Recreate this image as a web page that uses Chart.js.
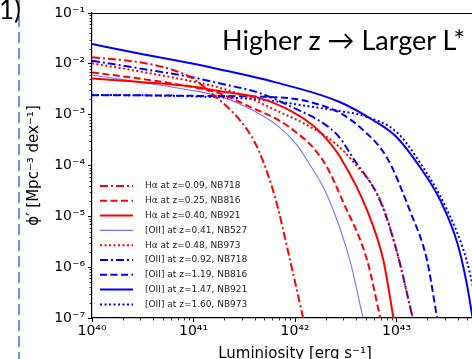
<!DOCTYPE html>
<html>
<head>
<meta charset="utf-8">
<script src="https://cdn.jsdelivr.net/npm/chart.js@4.4.1/dist/chart.umd.min.js"></script>
<style>
  html, body { margin: 0; padding: 0; overflow: hidden; background: #fff; }
  #wrap { position: relative; width: 472px; height: 359px; overflow: hidden; }
  #box { position: absolute; left: 0; top: 0; width: 540px; height: 359px; }
  #note { position: absolute; left: 222px; top: 23px; font: 27px Lato, sans-serif; color: #000; white-space: nowrap; }
  #num { position: absolute; left: -1px; top: -7px; font: 26px Lato, sans-serif; color: #000; }
  #divider { position: absolute; left: 18px; top: 0; width: 2px; height: 359px;
    background: repeating-linear-gradient(to bottom, #6d97d8 0 11px, transparent 11px 16px); }
</style>
</head>
<body>
<div id="wrap">
  <div id="box"><canvas id="grafica"></canvas></div>
  <div id="divider"></div>
  <div id="num">1)</div>
  <div id="note">Higher z → Larger L*</div>
</div>
<script>
// curves: log10(L) and log10(phi) pairs
const haZ009L   = [40.0, 40.5, 40.8, 41.0, 41.16, 41.4, 41.53, 41.63, 41.8, 41.95, 42.08];
const haZ009Phi = [-1.87, -1.98, -2.12, -2.30, -2.55, -2.98, -3.30, -3.65, -4.6, -5.85, -7.0];

const haZ025L   = [40.0, 40.5, 41.0, 41.24, 41.56, 41.85, 42.0, 42.18, 42.32, 42.47, 42.71, 42.84];
const haZ025Phi = [-2.17, -2.30, -2.46, -2.57, -2.85, -3.12, -3.33, -3.65, -4.05, -4.70, -5.86, -7.0];

const haZ040L   = [40.0, 40.5, 41.0, 41.2, 41.66, 41.98, 42.18, 42.32, 42.44, 42.71, 42.87, 42.97];
const haZ040Phi = [-2.29, -2.36, -2.45, -2.52, -2.68, -2.95, -3.22, -3.50, -3.82, -4.88, -5.86, -7.0];

const oiiZ041L   = [40.0, 40.5, 41.0, 41.24, 41.49, 41.83, 42.02, 42.12, 42.32, 42.54, 42.67];
const oiiZ041Phi = [-2.22, -2.37, -2.53, -2.63, -2.82, -3.22, -3.60, -3.90, -4.60, -5.86, -7.0];

const haZ048L   = [40.0, 40.5, 41.0, 41.24, 41.5, 41.82, 42.15, 42.4, 42.57, 42.84, 43.0, 43.16];
const haZ048Phi = [-1.99, -2.16, -2.35, -2.46, -2.63, -2.92, -3.24, -3.57, -3.92, -4.68, -5.67, -7.0];

const oiiZ092L   = [40.0, 40.5, 41.0, 41.2, 41.66, 41.98, 42.28, 42.44, 42.57, 42.84, 43.0, 43.16];
const oiiZ092Phi = [-1.94, -2.10, -2.27, -2.36, -2.58, -2.86, -3.17, -3.45, -3.85, -4.70, -5.67, -7.0];

const oiiZ119L   = [40.0, 40.5, 41.0, 41.5, 42.0, 42.25, 42.44, 42.67, 42.91, 43.13, 43.30, 43.40];
const oiiZ119Phi = [-2.62, -2.62, -2.63, -2.64, -2.69, -2.81, -2.96, -3.30, -3.86, -4.88, -5.86, -7.0];

const oiiZ147L   = [40.0, 40.5, 41.0, 41.24, 41.8, 42.44, 42.77, 43.0, 43.23, 43.43, 43.6, 43.69, 43.75];
const oiiZ147Phi = [-1.61, -1.81, -2.00, -2.10, -2.36, -2.75, -3.11, -3.44, -4.03, -4.68, -5.53, -6.30, -7.0];

const oiiZ160L   = [40.0, 40.5, 41.0, 41.5, 41.82, 42.15, 42.44, 42.67, 43.0, 43.2, 43.5, 43.69, 43.82];
const oiiZ160Phi = [-2.61, -2.62, -2.64, -2.68, -2.74, -2.84, -2.93, -3.02, -3.34, -3.85, -4.88, -5.86, -7.0];

const etiquetas = [
  'Hα at z=0.09, NB718',
  'Hα at z=0.25, NB816',
  'Hα at z=0.40, NB921',
  '[OII] at z=0.41, NB527',
  'Hα at z=0.48, NB973',
  '[OII] at z=0.92, NB718',
  '[OII] at z=1.19, NB816',
  '[OII] at z=1.47, NB921',
  '[OII] at z=1.60, NB973'
];

const xTickExps = [40, 41, 42, 43, 44];
const yTickExps = [-7, -6, -5, -4, -3, -2, -1];

const curvas = [
  [haZ009L, haZ009Phi], [haZ025L, haZ025Phi], [haZ040L, haZ040Phi],
  [oiiZ041L, oiiZ041Phi], [haZ048L, haZ048Phi], [oiiZ092L, oiiZ092Phi],
  [oiiZ119L, oiiZ119Phi], [oiiZ147L, oiiZ147Phi], [oiiZ160L, oiiZ160Phi]
];

const dashDot = [8, 3, 2, 3];
const dashed = [7, 3.5];
const dotted = [2, 2.5];
const estilos = [
  { color: '#ff0000', width: 2, dash: dashDot },
  { color: '#ff0000', width: 2, dash: dashed },
  { color: '#ff0000', width: 2, dash: [] },
  { color: 'rgba(0,0,255,0.55)', width: 1.1, dash: [] },
  { color: '#ff0000', width: 2, dash: dotted },
  { color: '#0000ff', width: 2, dash: dashDot },
  { color: '#0000ff', width: 2, dash: dashed },
  { color: '#0000ff', width: 2, dash: [] },
  { color: '#0000ff', width: 2, dash: dotted }
];

const SUP = { '-': '⁻', '0': '⁰', '1': '¹', '2': '²', '3': '³', '4': '⁴', '5': '⁵', '6': '⁶', '7': '⁷', '8': '⁸', '9': '⁹' };
const potencia = e => '10' + String(e).split('').map(c => SUP[c]).join('');

const datasets = curvas.map(([ls, ps], i) => ({
  label: etiquetas[i],
  data: ls.map((l, j) => ({ x: Math.pow(10, l), y: Math.pow(10, ps[j]) })),
  showLine: true,
  pointRadius: 0,
  borderColor: estilos[i].color,
  borderWidth: estilos[i].width,
  borderDash: estilos[i].dash,
  cubicInterpolationMode: 'monotone',
  fill: false
}));

// minor ticks, top spine and the legend in the lower left corner
const extras = {
  id: 'extras',
  afterDraw(chart) {
    const { ctx, chartArea: a, scales: { x, y } } = chart;
    ctx.save();
    ctx.strokeStyle = '#000';
    ctx.lineWidth = 0.8;
    ctx.beginPath();
    for (let e = xTickExps[0]; e < xTickExps[xTickExps.length - 1]; e++) {
      for (let m = 2; m <= 9; m++) {
        const px = Math.round(x.getPixelForValue(m * Math.pow(10, e))) + 0.5;
        ctx.moveTo(px, a.bottom); ctx.lineTo(px, a.bottom + 2.5);
      }
    }
    for (let e = yTickExps[0]; e < yTickExps[yTickExps.length - 1]; e++) {
      for (let m = 2; m <= 9; m++) {
        const py = Math.round(y.getPixelForValue(m * Math.pow(10, e))) + 0.5;
        ctx.moveTo(a.left, py); ctx.lineTo(a.left - 2.5, py);
      }
    }
    ctx.stroke();
    ctx.lineWidth = 1.2;
    ctx.beginPath();
    ctx.moveTo(a.left, a.top + 0.5); ctx.lineTo(a.right, a.top + 0.5);
    ctx.stroke();

    // legend
    const paso = 14.8;
    let fy = a.bottom - 132;
    ctx.font = '9px "DejaVu Sans"';
    ctx.textBaseline = 'middle';
    ctx.fillStyle = '#222';
    chart.data.datasets.forEach(ds => {
      ctx.beginPath();
      ctx.setLineDash(ds.borderDash);
      ctx.strokeStyle = ds.borderColor;
      ctx.lineWidth = ds.borderWidth;
      ctx.moveTo(a.left + 8, fy); ctx.lineTo(a.left + 41, fy);
      ctx.stroke();
      ctx.setLineDash([]);
      ctx.fillText(ds.label, a.left + 53, fy);
      fy += paso;
    });
    ctx.restore();
  }
};

const ctx = document.getElementById('grafica').getContext('2d');
const chart = new Chart(ctx, {
  type: 'scatter',
  data: { datasets },
  options: {
    responsive: true,
    maintainAspectRatio: false,
    animation: false,
    layout: { padding: { left: 0, top: 13, right: 42, bottom: 0 } },
    plugins: { legend: { display: false }, tooltip: { enabled: false } },
    scales: {
      x: {
        type: 'logarithmic',
        min: Math.pow(10, xTickExps[0]),
        max: Math.pow(10, xTickExps[xTickExps.length - 1]),
        afterBuildTicks: s => { s.ticks = xTickExps.map(e => ({ value: Math.pow(10, e) })); },
        afterFit: s => { s.height = 41; },
        grid: { display: true, drawOnChartArea: false, drawTicks: true, tickLength: 4, tickColor: '#000', tickWidth: 1 },
        border: { display: true, color: '#000', width: 1.2 },
        ticks: {
          autoSkip: false, maxRotation: 0, padding: 1, color: '#000',
          font: { family: 'DejaVu Sans', size: 14 },
          callback: v => potencia(Math.round(Math.log10(v)))
        },
        title: {
          display: true, text: 'Luminiosity [erg s⁻¹]', color: '#000',
          font: { family: 'DejaVu Sans', size: 15, lineHeight: 1 },
          padding: { top: 0, bottom: -3 }
        }
      },
      y: {
        type: 'logarithmic',
        min: Math.pow(10, yTickExps[0]),
        max: Math.pow(10, yTickExps[yTickExps.length - 1]),
        afterBuildTicks: s => { s.ticks = yTickExps.map(e => ({ value: Math.pow(10, e) })); },
        afterFit: s => { s.width = 92; },
        grid: { display: true, drawOnChartArea: false, drawTicks: true, tickLength: 4, tickColor: '#000', tickWidth: 1 },
        border: { display: true, color: '#000', width: 1.2 },
        ticks: {
          autoSkip: false, padding: 3, color: '#000',
          font: { family: 'DejaVu Sans', size: 14 },
          callback: v => potencia(Math.round(Math.log10(v)))
        },
        title: {
          display: true, text: 'ϕ′ [Mpc⁻³ dex⁻¹]', color: '#000',
          font: { family: 'DejaVu Sans', size: 15 },
          padding: { top: 25, bottom: 0 }
        }
      }
    }
  },
  plugins: [extras]
});
</script>
</body>
</html>
